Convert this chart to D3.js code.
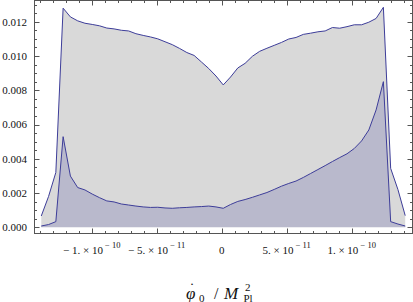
<!DOCTYPE html>
<html><head><meta charset="utf-8">
<script src="https://cdn.jsdelivr.net/npm/d3@7"></script>
<style>html,body{margin:0;padding:0;background:#fff;overflow:hidden}</style>
</head><body>
<svg id="c" width="413" height="302"></svg>
<script>
// bin centres, in units of 1e-11
const binCenters = [-13.88,-13.32,-12.76,-12.20,-11.64,-11.08,-10.52,-9.96,-9.40,-8.84,-8.28,-7.72,-7.16,-6.60,-6.04,-5.48,-4.92,-4.36,-3.80,-3.24,-2.68,-2.12,-1.56,-1.00,-0.44,0.12,0.68,1.24,1.80,2.36,2.92,3.48,4.04,4.60,5.16,5.72,6.28,6.84,7.40,7.96,8.52,9.08,9.64,10.20,10.76,11.32,11.88,12.44,13.00,13.56,14.12];
const greySeries = [0.00066,0.0018,0.0032,0.01279,0.01228,0.01205,0.01191,0.01184,0.01176,0.01163,0.01158,0.0115,0.01146,0.0113,0.0112,0.01111,0.011,0.01083,0.01066,0.01044,0.0102,0.01003,0.00965,0.00927,0.00883,0.00831,0.00877,0.0093,0.00957,0.00998,0.01027,0.01045,0.01062,0.01079,0.01099,0.01108,0.01126,0.01133,0.01141,0.01146,0.01166,0.01162,0.01171,0.01182,0.01182,0.01197,0.01219,0.01284,0.00344,0.0022,0.00068];
const blueSeries = [0.000076,0.00016,0.00033,0.00529,0.00299,0.00232,0.00218,0.00194,0.00173,0.00154,0.00148,0.00136,0.0013,0.00124,0.00119,0.00116,0.00117,0.00113,0.00111,0.00114,0.00116,0.00119,0.00121,0.00124,0.00119,0.00111,0.00133,0.00151,0.00162,0.00175,0.00189,0.00203,0.00221,0.0024,0.00256,0.0027,0.00291,0.00314,0.00337,0.0036,0.00384,0.00407,0.00429,0.0046,0.00504,0.00568,0.00685,0.0085,0.00033,0.00019,0.000076];
const xMajorTicks = [-10,-5,0,5,10];
const xTickMain = ["\u2212 1. \u00d7 10","\u2212 5. \u00d7 10","0","5. \u00d7 10","1. \u00d7 10"];
const xTickExp = ["\u2212 10","\u2212 11","","\u2212 11","\u2212 10"];
const yMajorTicks = [0,0.002,0.004,0.006,0.008,0.010,0.012];
const yTickLabels = ["0.000","0.002","0.004","0.006","0.008","0.010","0.012"];

const svg = d3.select("#c");
const L = 34.5, R = 412.5, T = 0.5, B = 233.5;
const x = d3.scaleLinear().domain([-14.44, 14.68]).range([34, 412.5]);
const y = d3.scaleLinear().domain([0, 0.012]).range([227.3, 21.7]);

const LINE = "#3d3d99";
const greyPts = binCenters.map((c,i)=>[c, greySeries[i]]);
const bluePts = binCenters.map((c,i)=>[c, blueSeries[i]]);
const area = d3.area().x(d=>x(d[0])).y0(y(0)).y1(d=>y(d[1]));
const line = d3.line().x(d=>x(d[0])).y(d=>y(d[1]));

svg.append("path").attr("d", area(greyPts)).attr("fill", "#d9d9d9");
svg.append("path").attr("d", area(bluePts)).attr("fill", "rgb(61,61,153)").attr("fill-opacity", 0.2);
svg.append("path").attr("d", line(greyPts)).attr("fill","none").attr("stroke",LINE).attr("stroke-width",1);
svg.append("path").attr("d", line(bluePts)).attr("fill","none").attr("stroke",LINE).attr("stroke-width",1);

// frame
const FR = "#555";
svg.append("rect").attr("x",L).attr("y",T).attr("width",R-L).attr("height",B-T)
  .attr("fill","none").attr("stroke",FR).attr("stroke-width",1);

// x ticks (bottom & top, inward)
const xMinor = d3.range(-14, 15, 1).filter(v=>!xMajorTicks.includes(v));
function xt(v, len){
  const px = Math.round(x(v))+0.5;
  svg.append("line").attr("x1",px).attr("x2",px).attr("y1",B).attr("y2",B-len).attr("stroke",FR);
  svg.append("line").attr("x1",px).attr("x2",px).attr("y1",T).attr("y2",T+len).attr("stroke",FR);
}
xMajorTicks.forEach(v=>xt(v,5));
xMinor.forEach(v=>xt(v,2.5));
// y ticks (left & right, inward)
const yMinor = d3.range(0, 0.01326, 0.0005).filter(v=>!yMajorTicks.some(m=>Math.abs(m-v)<1e-9));
function yt(v, len){
  const py = Math.round(y(v))+0.5;
  svg.append("line").attr("x1",L).attr("x2",L+len).attr("y1",py).attr("y2",py).attr("stroke",FR);
  svg.append("line").attr("x1",R).attr("x2",R-len).attr("y1",py).attr("y2",py).attr("stroke",FR);
}
yMajorTicks.forEach(v=>yt(v,5));
yMinor.forEach(v=>yt(v,2.5));

const FONT = "'Liberation Serif','Times New Roman',serif";
// y labels
yMajorTicks.forEach((v,i)=>{
  svg.append("text").attr("x",27).attr("y",y(v)+3.8).attr("text-anchor","end")
    .attr("font-family",FONT).attr("font-size",11).attr("fill","#111").text(yTickLabels[i]);
});
// x labels
xMajorTicks.forEach((v,i)=>{
  const t = svg.append("text").attr("x",x(v)).attr("y",253.5).attr("text-anchor","middle")
    .attr("font-family",FONT).attr("font-size",11).attr("fill","#111").attr("xml:space","preserve");
  t.append("tspan").text(xTickMain[i]);
  if (xTickExp[i]) t.append("tspan").attr("dy",-5.5).attr("font-size",8.5).text(" "+xTickExp[i]);
});

// axis label: phi-dot_0 / M_Pl^2
const g = svg.append("g").attr("font-family",FONT).attr("fill","#111");
g.append("text").attr("x",186).attr("y",299).attr("font-size",17).attr("font-style","italic").text("\u03c6");
g.append("text").attr("x",189.5).attr("y",293).attr("font-size",15).text("\u02d9");
g.append("text").attr("x",199).attr("y",301.5).attr("font-size",11).text("0");
g.append("text").attr("x",214).attr("y",299).attr("font-size",16).text("/");
g.append("text").attr("x",224).attr("y",299).attr("font-size",17).attr("font-style","italic").text("M");
g.append("text").attr("x",245).attr("y",291).attr("font-size",11).text("2");
g.append("text").attr("x",243.5).attr("y",301.5).attr("font-size",11).text("Pl");
</script>
</body></html>
